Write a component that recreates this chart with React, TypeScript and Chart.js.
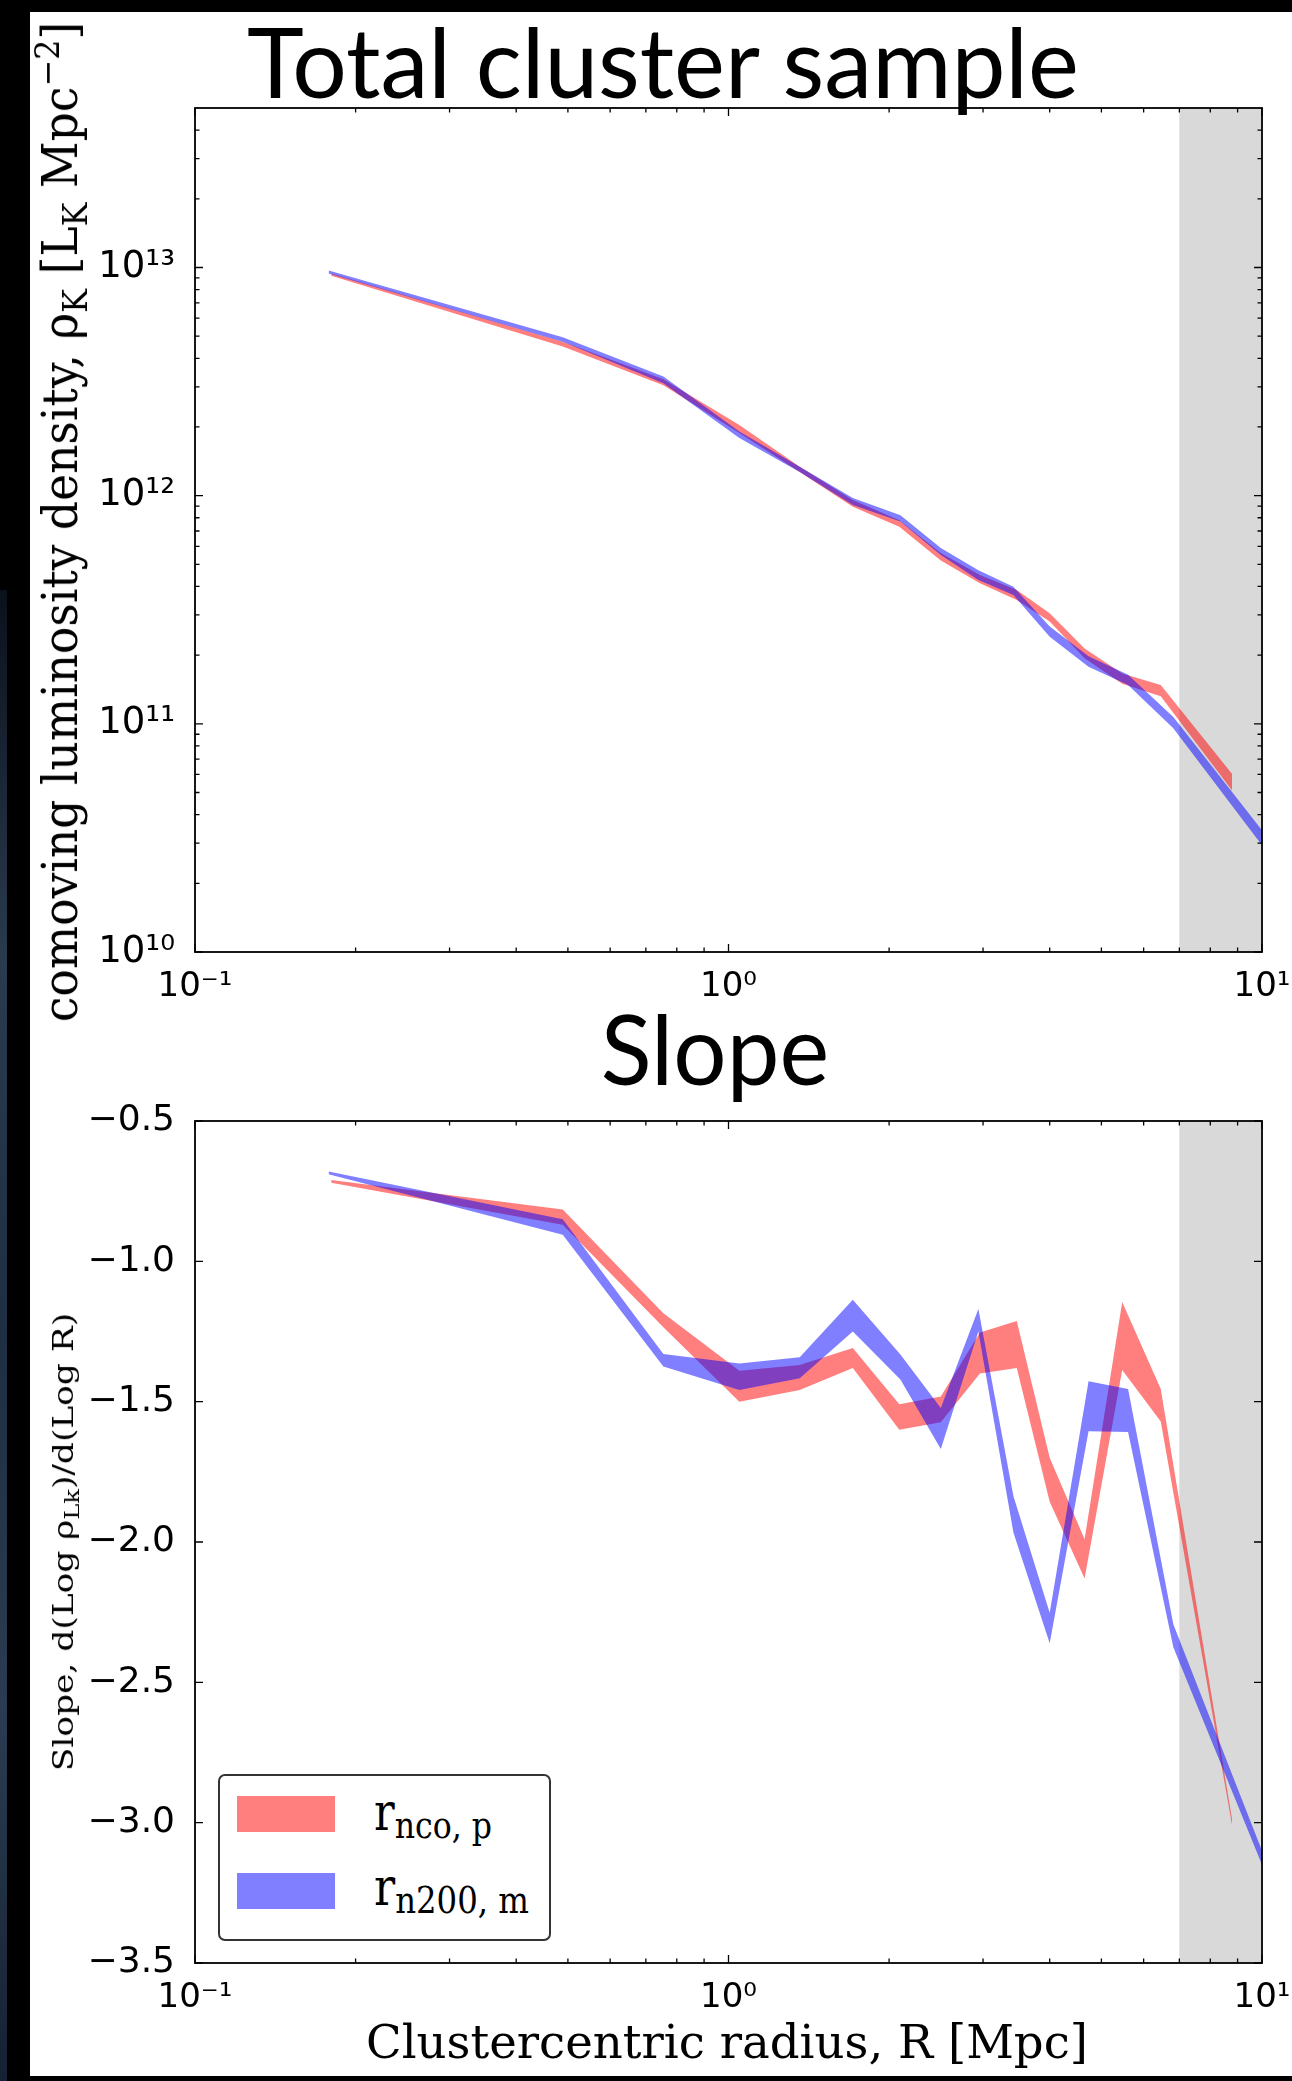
import React, { useEffect, useLayoutEffect, useRef } from 'react';
import { Chart, registerables } from 'chart.js';

Chart.register(...registerables);

// ---------------- data ----------------
const seriesNames = ['r_nco,p', 'r_n200,m'];
const seriesColors = ['rgba(255,0,0,0.5)', 'rgba(0,0,255,0.5)'];

const radiusRed = [0.18, 0.489, 0.755, 1.048, 1.36, 1.71, 2.09, 2.5, 2.96, 3.47, 4.0, 4.65, 5.47, 6.46, 8.79];
const radiusBlue = [0.178, 0.489, 0.755, 1.048, 1.36, 1.71, 2.1, 2.5, 2.94, 3.42, 4.0, 4.73, 5.61, 6.82, 10.0];

const densRedLo = [9.2e12, 4.5e12, 3.05e12, 1.88e12, 1.27e12, 8.95e11, 7.3e11, 5.2e11, 4.13e11, 3.49e11, 2.81e11, 1.94e11, 1.5e11, 1.32e11, 5.1e10];
const densRedHi = [9.4e12, 4.73e12, 3.24e12, 2.04e12, 1.34e12, 9.57e11, 7.8e11, 5.6e11, 4.49e11, 3.86e11, 3.05e11, 2.14e11, 1.66e11, 1.48e11, 6.03e10];
const densBlueLo = [9.4e12, 4.73e12, 3.11e12, 1.79e12, 1.27e12, 9.1e11, 7.7e11, 5.5e11, 4.27e11, 3.67e11, 2.41e11, 1.78e11, 1.48e11, 9.56e10, 2.94e10];
const densBlueHi = [9.7e12, 4.94e12, 3.33e12, 1.91e12, 1.34e12, 9.76e11, 8.2e11, 5.9e11, 4.71e11, 3.99e11, 2.67e11, 1.98e11, 1.64e11, 1.07e11, 3.42e10];

const slopeRedLo = [-0.72, -0.87, -1.235, -1.5, -1.458, -1.38, -1.6, -1.573, -1.4, -1.38, -1.857, -2.13, -1.387, -1.571, -3.01];
const slopeRedHi = [-0.71, -0.815, -1.185, -1.39, -1.369, -1.309, -1.509, -1.482, -1.254, -1.213, -1.7, -1.99, -1.145, -1.455, -2.99];
const slopeBlueLo = [-0.69, -0.905, -1.375, -1.458, -1.417, -1.25, -1.421, -1.669, -1.25, -1.966, -2.361, -1.605, -1.608, -2.375, -3.15];
const slopeBlueHi = [-0.68, -0.85, -1.33, -1.364, -1.342, -1.137, -1.332, -1.523, -1.17, -1.836, -2.252, -1.427, -1.455, -2.293, -3.1];

const shadeRange = [7, 10];

const radiusTicks = [0.1, 1, 10];
const radiusTickLabels = ['10\u207B\u00B9', '10\u2070', '10\u00B9'];
const densityTicks = [1e10, 1e11, 1e12, 1e13];
const densityTickLabels = ['10\u00B9\u2070', '10\u00B9\u00B9', '10\u00B9\u00B2', '10\u00B9\u00B3'];
const slopeTicks = [-3.5, -3.0, -2.5, -2.0, -1.5, -1.0, -0.5];
const slopeTickLabels = ['\u22123.5', '\u22123.0', '\u22122.5', '\u22122.0', '\u22121.5', '\u22121.0', '\u22120.5'];
const minorMultipliers = [2, 3, 4, 5, 6, 7, 8, 9];

// ---------------- helpers ----------------
const SHADE = '#d9d9d9';

function logMinor(decades: number[], min: number, max: number) {
  const out: number[] = [];
  decades.forEach((d) => minorMultipliers.forEach((m) => {
    const v = d * m;
    if (v > min && v < max) out.push(v);
  }));
  return out;
}

function band(xs: number[], lo: number[], hi: number[], color: string, order: number) {
  return [
    { data: xs.map((x, i) => ({ x, y: lo[i] })), borderWidth: 0, borderColor: 'transparent', pointRadius: 0, fill: false, backgroundColor: color, order, tension: 0 },
    { data: xs.map((x, i) => ({ x, y: hi[i] })), borderWidth: 0, borderColor: 'transparent', pointRadius: 0, fill: '-1', backgroundColor: color, order, tension: 0 },
  ];
}

function makeFrame(cfg: { xMajor: number[]; xMinor: number[]; yMajor: number[]; yMinor: number[] }) {
  return {
    id: 'frameTicks',
    beforeDatasetsDraw(chart: any) {
      const { ctx, chartArea: a, scales } = chart;
      const x0 = Math.max(a.left, scales.x.getPixelForValue(shadeRange[0]));
      const x1 = Math.min(a.right, scales.x.getPixelForValue(shadeRange[1]));
      ctx.save();
      ctx.fillStyle = SHADE;
      ctx.fillRect(x0, a.top, x1 - x0, a.bottom - a.top);
      ctx.restore();
    },
    afterDatasetsDraw(chart: any) {
      const { ctx, chartArea: a, scales } = chart;
      ctx.save();
      ctx.strokeStyle = '#000';
      ctx.lineWidth = 1.3;
      const xt = (vals: number[], len: number) => vals.forEach((v) => {
        const p = scales.x.getPixelForValue(v);
        ctx.beginPath();
        ctx.moveTo(p, a.bottom); ctx.lineTo(p, a.bottom - len);
        ctx.moveTo(p, a.top); ctx.lineTo(p, a.top + len);
        ctx.stroke();
      });
      const yt = (vals: number[], len: number) => vals.forEach((v) => {
        const p = scales.y.getPixelForValue(v);
        ctx.beginPath();
        ctx.moveTo(a.left, p); ctx.lineTo(a.left + len, p);
        ctx.moveTo(a.right, p); ctx.lineTo(a.right - len, p);
        ctx.stroke();
      });
      xt(cfg.xMajor, 8); xt(cfg.xMinor, 4.5);
      yt(cfg.yMajor, 8); yt(cfg.yMinor, 4.5);
      ctx.lineWidth = 1.8;
      ctx.strokeRect(a.left, a.top, a.right - a.left, a.bottom - a.top);
      ctx.restore();
    },
  };
}

function baseX(height: number) {
  return {
    type: 'logarithmic', min: 0.1, max: 10, position: 'bottom',
    grid: { display: false }, border: { display: false },
    afterBuildTicks: (s: any) => { s.ticks = radiusTicks.map((v) => ({ value: v })); },
    afterFit: (s: any) => { s.height = height; s.paddingLeft = 0; s.paddingRight = 0; },
    ticks: {
      autoSkip: false, maxRotation: 0, minRotation: 0, padding: 7, color: '#000',
      font: { family: 'DejaVu Sans', size: 34 },
      callback: (_v: any, i: number) => radiusTickLabels[i],
    },
  };
}

function densityConfig(): any {
  return {
    type: 'line',
    data: {
      datasets: [
        ...band(radiusRed, densRedLo, densRedHi, seriesColors[0], 1),
        ...band(radiusBlue, densBlueLo, densBlueHi, seriesColors[1], 0),
      ],
    },
    options: {
      animation: false, responsive: false, devicePixelRatio: 1, events: [],
      layout: { padding: { left: 0, right: 30, top: 108, bottom: 0 } },
      plugins: { legend: { display: false }, tooltip: { enabled: false } },
      scales: {
        x: baseX(58),
        y: {
          type: 'logarithmic', min: 1e10, max: 5e13,
          grid: { display: false }, border: { display: false },
          afterBuildTicks: (s: any) => { s.ticks = densityTicks.map((v) => ({ value: v })); },
          afterFit: (s: any) => { s.width = 195; s.paddingTop = 0; s.paddingBottom = 0; },
          ticks: {
            autoSkip: false, padding: 12, color: '#000',
            font: { family: 'DejaVu Sans', size: 37 },
            callback: (_v: any, i: number) => densityTickLabels[i],
          },
        },
      },
    },
    plugins: [makeFrame({
      xMajor: radiusTicks, xMinor: logMinor([0.1, 1], 0.1, 10),
      yMajor: densityTicks, yMinor: logMinor([1e10, 1e11, 1e12, 1e13], 1e10, 5e13),
    })],
  };
}

function slopeConfig(): any {
  return {
    type: 'line',
    data: {
      datasets: [
        ...band(radiusRed, slopeRedLo, slopeRedHi, seriesColors[0], 1),
        ...band(radiusBlue, slopeBlueLo, slopeBlueHi, seriesColors[1], 0),
      ],
    },
    options: {
      animation: false, responsive: false, devicePixelRatio: 1, events: [],
      layout: { padding: { left: 0, right: 30, top: 121, bottom: 0 } },
      plugins: { legend: { display: false }, tooltip: { enabled: false } },
      scales: {
        x: baseX(118),
        y: {
          type: 'linear', min: -3.5, max: -0.5,
          grid: { display: false }, border: { display: false },
          afterBuildTicks: (s: any) => { s.ticks = slopeTicks.map((v) => ({ value: v })); },
          afterFit: (s: any) => { s.width = 195; s.paddingTop = 0; s.paddingBottom = 0; },
          ticks: {
            autoSkip: false, padding: 12, color: '#000',
            font: { family: 'DejaVu Sans', size: 36 },
            callback: (_v: any, i: number) => slopeTickLabels[i],
          },
        },
      },
    },
    plugins: [makeFrame({
      xMajor: radiusTicks, xMinor: logMinor([0.1, 1], 0.1, 10),
      yMajor: slopeTicks, yMinor: [],
    })],
  };
}

function ChartCanvas({ top, height, make }: { top: number; height: number; make: () => any }) {
  const ref = useRef<HTMLCanvasElement>(null);
  useEffect(() => {
    const chart = new Chart(ref.current as HTMLCanvasElement, make());
    return () => chart.destroy();
  }, []);
  return (
    <canvas ref={ref} width={1292} height={height}
      style={{ position: 'absolute', left: 0, top, width: 1292, height, display: 'block' }} />
  );
}

function FitText({ cx, cy, w, rot = false, anchor = 'center', font, children }:
  { cx: number; cy: number; w: number; rot?: boolean; anchor?: string; font: string; children: any }) {
  const ref = useRef<HTMLDivElement>(null);
  useLayoutEffect(() => {
    const el = ref.current as HTMLDivElement;
    const apply = () => {
      const nat = el.offsetWidth;
      const k = nat > 0 ? w / nat : 1;
      if (anchor === 'left') el.style.transform = `translateY(-50%) scaleX(${k})`;
      else el.style.transform = `translate(-50%, -50%) ${rot ? 'rotate(-90deg) ' : ''}scaleX(${k})`;
    };
    apply();
    if ((document as any).fonts) (document as any).fonts.ready.then(apply);
  }, []);
  return (
    <div ref={ref} style={{
      position: 'absolute', left: cx, top: cy, font, lineHeight: 1, whiteSpace: 'nowrap',
      width: 'max-content', color: '#000', zIndex: 5,
      transformOrigin: anchor === 'left' ? '0 50%' : '50% 50%',
    }}>{children}</div>
  );
}

const sub = (t: string, size = '0.7em', off = '0.3em') => (
  <span style={{ fontSize: size, position: 'relative', top: off }}>{t}</span>
);
const sup = (t: string) => (
  <span style={{ fontSize: '0.7em', position: 'relative', top: '-0.55em' }}>{t}</span>
);

export default function App() {
  useEffect(() => {
    document.body.style.margin = '0';
    document.body.style.overflow = 'hidden';
  }, []);
  return (
    <div style={{ position: 'absolute', left: 0, top: 0, width: 1292, height: 2081, background: '#000', overflow: 'hidden' }}>
      <div style={{
        position: 'absolute', left: 0, top: 590, width: 7, height: 1491,
        background: 'linear-gradient(180deg, #0b111b 0%, #2a3b4f 25%, #1f2e42 50%, #2b3c52 75%, #162133 100%)',
      }} />
      <div style={{ position: 'absolute', left: 30, top: 12, width: 1262, height: 2064, background: '#fff' }} />

      <ChartCanvas top={0} height={1010} make={densityConfig} />
      <ChartCanvas top={1000} height={1081} make={slopeConfig} />

      <FitText cx={663} cy={60} w={832} font="97px Lato">Total cluster sample</FitText>
      <FitText cx={715} cy={1047} w={228} font="97px Lato">Slope</FitText>

      <FitText cx={60} cy={522} w={1000} rot font="48px 'DejaVu Serif'">
        comoving luminosity density, ρ{sub('K')} [L{sub('K')} Mpc{sup('\u22122')}]
      </FitText>
      <FitText cx={64} cy={1542} w={458} rot font="28px 'DejaVu Serif'">
        Slope, d(Log ρ{sub('Lk')})/d(Log R)
      </FitText>
      <FitText cx={727} cy={2041} w={722} font="47px 'DejaVu Serif'">
        Clustercentric radius, R [Mpc]
      </FitText>

      <div style={{
        position: 'absolute', left: 218, top: 1774, width: 333, height: 167, boxSizing: 'border-box',
        border: '2px solid #333', borderRadius: 7, background: '#fff', zIndex: 4,
      }} />
      <div style={{ position: 'absolute', left: 237, top: 1796, width: 98, height: 36, background: seriesColors[0], zIndex: 5 }} />
      <div style={{ position: 'absolute', left: 237, top: 1873, width: 98, height: 36, background: seriesColors[1], zIndex: 5 }} />
      <FitText cx={374} cy={1812} w={118} anchor="left" font="52px 'DejaVu Serif'">
        r{sub('nco, p', '38px', '8px')}
      </FitText>
      <FitText cx={374} cy={1887} w={155} anchor="left" font="52px 'DejaVu Serif'">
        r{sub('n200, m', '38px', '8px')}
      </FitText>
      <span style={{ display: 'none' }}>{seriesNames.join(',')}</span>
    </div>
  );
}
